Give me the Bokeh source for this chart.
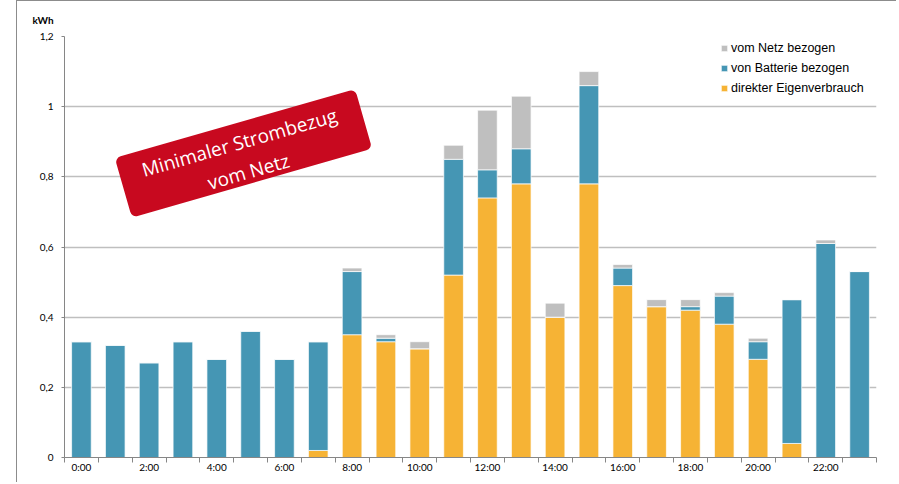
from bokeh.plotting import figure
from bokeh.models import ColumnDataSource, FixedTicker, Legend, LegendItem
from bokeh.core.properties import value
from bokeh.embed import file_html
from bokeh.resources import INLINE

hours = list(range(24))
x_tick_positions = [0, 2, 4, 6, 8, 10, 12, 14, 16, 18, 20, 22]
x_tick_labels = ["0:00", "2:00", "4:00", "6:00", "8:00", "10:00", "12:00",
                 "14:00", "16:00", "18:00", "20:00", "22:00"]
y_ticks = [0, 0.2, 0.4, 0.6, 0.8, 1.0, 1.2]
y_tick_labels = ["0", "0,2", "0,4", "0,6", "0,8", "1", "1,2"]

direkt = [0, 0, 0, 0, 0, 0, 0, 0.02, 0.35, 0.33, 0.31, 0.52,
          0.74, 0.78, 0.40, 0.78, 0.49, 0.43, 0.42, 0.38, 0.28, 0.04, 0, 0]
batterie = [0.33, 0.32, 0.27, 0.33, 0.28, 0.36, 0.28, 0.31, 0.18, 0.01, 0, 0.33,
            0.08, 0.10, 0, 0.28, 0.05, 0, 0.01, 0.08, 0.05, 0.41, 0.61, 0.53]
netz = [0, 0, 0, 0, 0, 0, 0, 0, 0.01, 0.01, 0.02, 0.04,
        0.17, 0.15, 0.04, 0.04, 0.01, 0.02, 0.02, 0.01, 0.01, 0, 0.01, 0]

series_names = ["direkt", "batterie", "netz"]
series_labels = {"netz": "vom Netz bezogen", "batterie": "von Batterie bezogen",
                 "direkt": "direkter Eigenverbrauch"}
colors = ["#f6b335", "#4596b4", "#bfbfbf"]

source = ColumnDataSource(dict(hour=hours, direkt=direkt, batterie=batterie, netz=netz))

p = figure(width=880, height=482, x_range=(-0.5, 23.5), y_range=(0, 1.2),
           output_backend="svg", toolbar_location=None,
           min_border_left=47, min_border_right=21, min_border_top=35, min_border_bottom=26)
p.margin = (0, 0, 0, 16)
p.styles = {"border-left": "1px solid #8c8c8c", "border-top": "1px solid #8c8c8c"}
p.outline_line_color = None
p.background_fill_color = "white"
p.border_fill_color = "white"

# unit label as title
p.title.text = "kWh"
p.title.align = "left"
p.title.offset = -32
p.title.standoff = 21
p.title.text_font = "Lato"
p.title.text_font_style = "bold"
p.title.text_font_size = "10px"
p.title.text_color = "#000000"

renderers = p.vbar_stack(series_names, x="hour", width=0.58, source=source,
                         fill_color=colors, line_color="white", line_alpha=0.7, line_width=1)

# axes
p.yaxis.ticker = FixedTicker(ticks=y_ticks)
p.yaxis.major_label_overrides = dict(zip(y_ticks, y_tick_labels))
p.yaxis.axis_line_color = "#868686"
p.yaxis.major_tick_line_color = "#868686"
p.yaxis.major_tick_out = 3
p.yaxis.major_tick_in = 0
p.yaxis.minor_tick_line_color = None
p.yaxis.major_label_standoff = 8
p.yaxis.major_label_text_font = "Lato"
p.yaxis.major_label_text_font_size = "10px"
p.yaxis.major_label_text_color = "#000000"

minor = [h - 0.5 for h in hours] + [hours[-1] + 0.5]
p.xaxis.ticker = FixedTicker(ticks=x_tick_positions, minor_ticks=minor)
p.xaxis.major_label_overrides = dict(zip(x_tick_positions, x_tick_labels))
p.xaxis.axis_line_color = "#868686"
p.xaxis.major_tick_line_color = None
p.xaxis.major_tick_out = 0
p.xaxis.major_tick_in = 0
p.xaxis.minor_tick_line_color = "#868686"
p.xaxis.minor_tick_out = 5
p.xaxis.minor_tick_in = 0
p.xaxis.major_label_standoff = -2
p.xaxis.major_label_text_font = "Lato"
p.xaxis.major_label_text_font_size = "10px"
p.xaxis.major_label_text_color = "#000000"

p.xgrid.visible = False
p.ygrid.ticker = FixedTicker(ticks=y_ticks)
p.ygrid.grid_line_color = "#bfbfbf"
p.ygrid.grid_line_width = 1.5

# legend
legend = Legend(items=[
    LegendItem(label=series_labels["netz"], renderers=[renderers[2]]),
    LegendItem(label=series_labels["batterie"], renderers=[renderers[1]]),
    LegendItem(label=series_labels["direkt"], renderers=[renderers[0]]),
], location=(656, 359))
legend.padding = 0
legend.margin = 0
legend.spacing = 0
legend.glyph_width = 8
legend.glyph_height = 8
legend.label_height = 20
legend.label_standoff = 3
legend.label_text_font = "Liberation Sans"
legend.label_text_font_size = "12.5px"
legend.label_text_color = "#000000"
legend.border_line_color = None
legend.background_fill_alpha = 0
p.add_layout(legend)

# red callout box
p.rect(x=[4.79], y=[0.867], width=250, height=62, width_units="screen",
       height_units="screen", angle=0.279, fill_color="#c8091f", line_color=None,
       border_radius=6)
p.text(x=[4.67, 4.94], y=[0.898, 0.815], text=["Minimaler Strombezug", "vom Netz"],
       angle=0.279, text_align="center", text_baseline="middle", text_color="white",
       text_font=value("Open Sans"), text_font_size="19px")

open("out.html", "w").write(file_html(p, INLINE))
